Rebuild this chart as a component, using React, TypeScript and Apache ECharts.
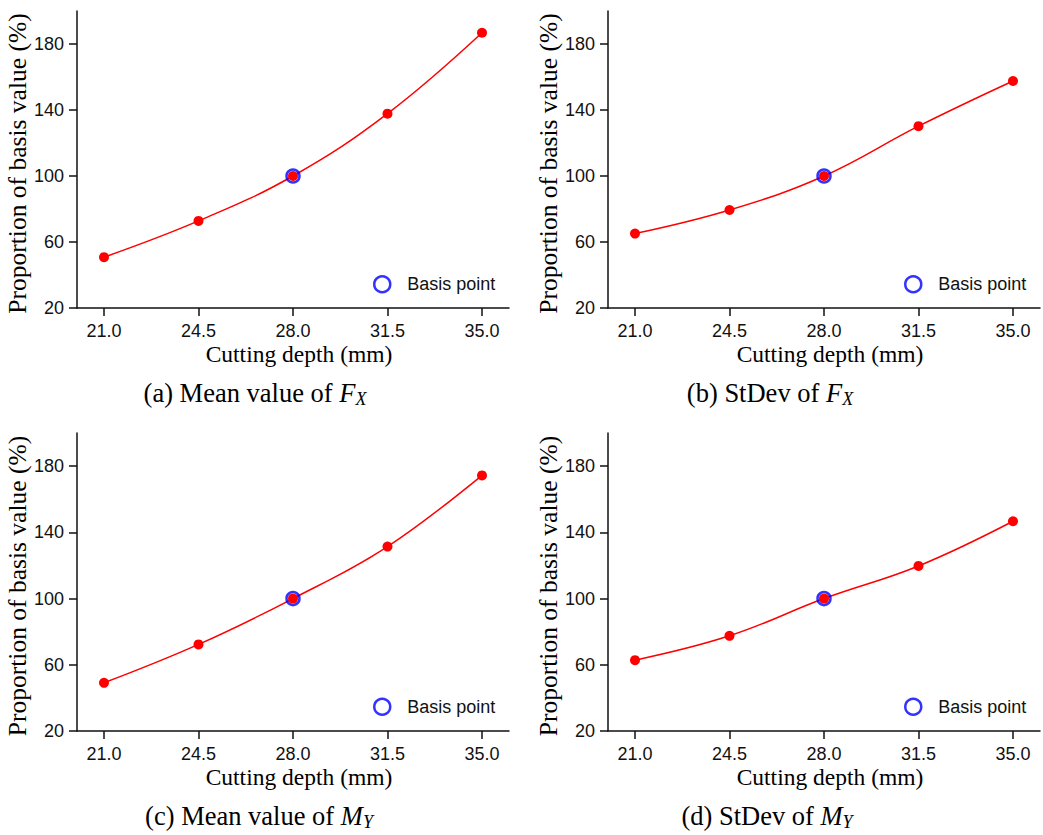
import React, { useEffect, useRef } from "react";
import * as echarts from "echarts";

const depths = [21, 24.5, 28, 31.5, 35];
const meanFx = [50.8, 72.8, 100, 137.8, 186.8];
const stdevFx = [65.1, 79.4, 100, 130.2, 157.6];
const meanMy = [49.1, 72.3, 100, 131.4, 174.4];
const stdevMy = [62.8, 77.5, 100, 119.7, 146.7];
const basisPoint = [28, 100];
const yTickValues = [20, 60, 100, 140, 180];
const xTickValues = [21, 24.5, 28, 31.5, 35];
const panelSeries = [meanFx, stdevFx, meanMy, stdevMy];
const captionPrefix = ["(a) Mean value of ", "(b) StDev of ", "(c) Mean value of ", "(d) StDev of "];
const captionVar = ["F", "F", "M", "M"];
const captionSub = ["X", "X", "Y", "Y"];

const SERIF = "'Liberation Serif', 'Times New Roman', serif";
const SANS = "'Liberation Sans', Arial, sans-serif";

const grids = [
  { left: 77, top: 11, width: 432, height: 297 },
  { left: 608, top: 11, width: 432, height: 297 },
  { left: 77, top: 433, width: 432, height: 298 },
  { left: 608, top: 433, width: 432, height: 298 },
];
const legendPos = [
  { left: 373, top: 275 },
  { left: 904, top: 275 },
  { left: 373, top: 697.5 },
  { left: 904, top: 697.5 },
];
const captionPos = [
  [255, 393],
  [770, 393],
  [259, 816],
  [767, 816],
];

export default function App() {
  const ref = useRef<HTMLDivElement>(null);
  useEffect(() => {
    if (!ref.current) return;
    const chart = echarts.init(ref.current, undefined, { renderer: "svg" });
    const axisLineStyle = { color: "#111", width: 1.5 };
    const xAxis = grids.map((_, i) => ({
      type: "value",
      gridIndex: i,
      min: 20,
      max: 36,
      name: "Cutting depth (mm)",
      nameLocation: "middle",
      nameGap: 34,
      nameTextStyle: { fontFamily: SERIF, fontSize: 23.5, color: "#000", padding: [0, 0, 0, 12] },
      axisLine: { show: true, lineStyle: axisLineStyle },
      axisTick: { show: true, length: 8, customValues: xTickValues, lineStyle: axisLineStyle },
      axisLabel: {
        customValues: xTickValues,
        formatter: (v: number) => v.toFixed(1),
        fontFamily: SANS,
        fontSize: 18,
        color: "#111",
        margin: 14,
      },
      splitLine: { show: false },
    }));
    const yAxis = grids.map((_, i) => ({
      type: "value",
      gridIndex: i,
      min: 20,
      max: 200,
      name: "Proportion of basis value (%)",
      nameLocation: "middle",
      nameGap: 44,
      nameTextStyle: { fontFamily: SERIF, fontSize: 25.5, color: "#000", padding: [0, 8, 0, 0] },
      axisLine: { show: true, lineStyle: axisLineStyle },
      axisTick: { show: true, length: 8, customValues: yTickValues, lineStyle: axisLineStyle },
      axisLabel: {
        customValues: yTickValues,
        fontFamily: SANS,
        fontSize: 18,
        color: "#111",
        margin: 13,
      },
      splitLine: { show: false },
    }));
    const series: any[] = [];
    panelSeries.forEach((vals, i) => {
      series.push({
        type: "line",
        xAxisIndex: i,
        yAxisIndex: i,
        smooth: 0.4,
        symbol: "circle",
        symbolSize: 10,
        itemStyle: { color: "#ff0000" },
        lineStyle: { color: "#ff0000", width: 1.5 },
        data: depths.map((d, k) => [d, vals[k]]),
        z: 2,
      });
      series.push({
        type: "scatter",
        name: "Basis point",
        xAxisIndex: i,
        yAxisIndex: i,
        symbol: "circle",
        symbolSize: 13,
        itemStyle: { color: "transparent", borderColor: "#0000ff", borderWidth: 2.5 },
        data: [basisPoint],
        z: 3,
      });
    });
    const legend = legendPos.map((p) => ({
      left: p.left,
      top: p.top,
      padding: 0,
      selectedMode: false,
      itemWidth: 16,
      itemHeight: 16,
      data: [
        {
          name: "Basis point",
          icon: "circle",
          itemStyle: { color: "transparent", borderColor: "#0000ff", borderWidth: 2.5 },
        },
      ],
      textStyle: { fontFamily: SANS, fontSize: 18, color: "#111", padding: [0, 0, 0, 12] },
    }));
    const graphic = captionPos.map((p, i) => ({
      type: "text",
      x: p[0],
      y: p[1],
      style: {
        text: `{n|${captionPrefix[i]}}{i|${captionVar[i]}}{s|${captionSub[i]}}`,
        align: "center",
        verticalAlign: "middle",
        rich: {
          n: { fontFamily: SERIF, fontSize: 26.5, fill: "#000", color: "#000", lineHeight: 30, verticalAlign: "middle" },
          i: { fontFamily: SERIF, fontSize: 26.5, fontStyle: "italic", fill: "#000", color: "#000", lineHeight: 30, verticalAlign: "middle" },
          s: { fontFamily: SERIF, fontSize: 18, fontStyle: "italic", fill: "#000", color: "#000", lineHeight: 30, verticalAlign: "bottom" },
        },
      },
    }));
    chart.setOption({
      animation: false,
      backgroundColor: "#fff",
      grid: grids,
      xAxis,
      yAxis,
      legend,
      series,
      graphic,
    } as any);
    return () => chart.dispose();
  }, []);
  return (
    <div
      ref={ref}
      style={{ position: "absolute", left: 0, top: 0, width: 1043, height: 835 }}
    />
  );
}
